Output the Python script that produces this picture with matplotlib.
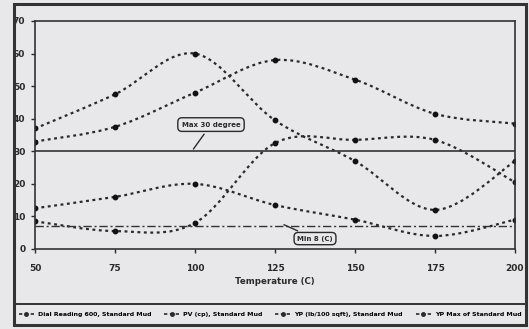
import numpy as np
import matplotlib
matplotlib.use("Agg")
import matplotlib.pyplot as plt
from matplotlib.path import Path
from matplotlib.patches import PathPatch, Rectangle
from matplotlib.lines import Line2D

# data
temps = [50, 75, 100, 125, 150, 175, 200]
dial_600 = [37, 47.5, 60, 39.5, 27, 12, 27]
pv_cp = [33, 37.5, 48, 58, 52, 41.5, 38.5]
yp_lb = [12.5, 16, 20, 13.5, 9, 4, 9]
yp_max = [8.5, 5.5, 8, 32.5, 33.5, 33.5, 20.5]
max_limit = 30
min_limit = 7

series_names = [
    "Dial Reading 600, Standard Mud",
    "PV (cp), Standard Mud",
    "YP (lb/100 sqft), Standard Mud",
    "YP Max of Standard Mud",
]
xticks = [50, 75, 100, 125, 150, 175, 200]
yticks = [0, 10, 20, 30, 40, 50, 60, 70]

bg = "#e8e8ea"
ink = "#2a2a2a"


def smooth_path(xs, ys):
    # excel-like smoothed line: cubic bezier segments through the points
    pts = np.column_stack([xs, ys]).astype(float)
    n = len(pts)
    verts = [pts[0]]
    codes = [Path.MOVETO]
    for i in range(n - 1):
        p0 = pts[max(i - 1, 0)]
        p1 = pts[i]
        p2 = pts[i + 1]
        p3 = pts[min(i + 2, n - 1)]
        c1 = p1 + (p2 - p0) / 6.0
        c2 = p2 - (p3 - p1) / 6.0
        verts += [c1, c2, p2]
        codes += [Path.CURVE4] * 3
    return Path(verts, codes)


fig = plt.figure(figsize=(5.29, 3.29), dpi=100, facecolor=bg)
ax = fig.add_axes([35 / 529, 1 - 249 / 329, 480 / 529, 228 / 329])
ax.set_facecolor(bg)

for ys in [dial_600, pv_cp, yp_lb, yp_max]:
    patch = PathPatch(smooth_path(temps, ys), facecolor="none", edgecolor=ink,
                      lw=1.6, linestyle=(0, (1.3, 1.6)))
    ax.add_patch(patch)
    ax.plot(temps, ys, linestyle="none", marker="o", ms=3.2, color="#111111")

ax.axhline(max_limit, color="#333333", lw=1.2)
ax.axhline(min_limit, color="#333333", lw=1.0, linestyle=(0, (6, 2, 1.5, 2)))

ax.set_xlim(50, 200)
ax.set_ylim(0, 70)
ax.set_xticks(xticks)
ax.set_yticks(yticks)
ax.tick_params(labelsize=6.5, length=3, width=1, colors=ink)
ax.tick_params(axis="x", pad=8)
ax.tick_params(axis="y", pad=4)
for lab in ax.get_xticklabels() + ax.get_yticklabels():
    lab.set_fontweight("bold")
for s in ax.spines.values():
    s.set_color("#333333")
    s.set_linewidth(1.2)
ax.set_xlabel("Temperature (C)", fontsize=6.2, fontweight="bold",
              color=ink, labelpad=3)

# callouts
ax.annotate("Max 30 degree", xy=(99, max_limit), xytext=(105, 38.2),
            fontsize=5, fontweight="bold", ha="center", va="center", color=ink,
            bbox=dict(boxstyle="round,pad=0.55,rounding_size=0.6", fc=bg, ec=ink, lw=1),
            arrowprops=dict(arrowstyle="-", color=ink, lw=1))
ax.annotate("Min 8 (C)", xy=(127, min_limit + 0.8), xytext=(137.5, 3.2),
            fontsize=5, fontweight="bold", ha="center", va="center", color=ink,
            bbox=dict(boxstyle="round,pad=0.45,rounding_size=0.6", fc=bg, ec=ink, lw=1),
            arrowprops=dict(arrowstyle="-", color=ink, lw=1))

# outer frame of the chart
fig.patches.append(Rectangle((14 / 529, 4 / 329), 512 / 529, 321 / 329,
                             transform=fig.transFigure, fill=False,
                             ec="#333333", lw=2.2))
fig.lines.append(Line2D([14 / 529, 526 / 529], [1 - 304 / 329, 1 - 304 / 329],
                        transform=fig.transFigure, color="#333333", lw=1.4))

handles = [Line2D([], [], color=ink, lw=1.2, linestyle=(0, (2, 1.5)),
                  marker="o", ms=2.5) for _ in series_names]
leg = fig.legend(handles, series_names, loc="center", ncol=4,
                 bbox_to_anchor=(270 / 529, 1 - 314 / 329), frameon=False,
                 prop={"size": 4.5, "weight": "bold"},
                 handlelength=2.5, columnspacing=2.0, handletextpad=0.6)

fig.savefig("out.png", dpi=100, facecolor=bg)
